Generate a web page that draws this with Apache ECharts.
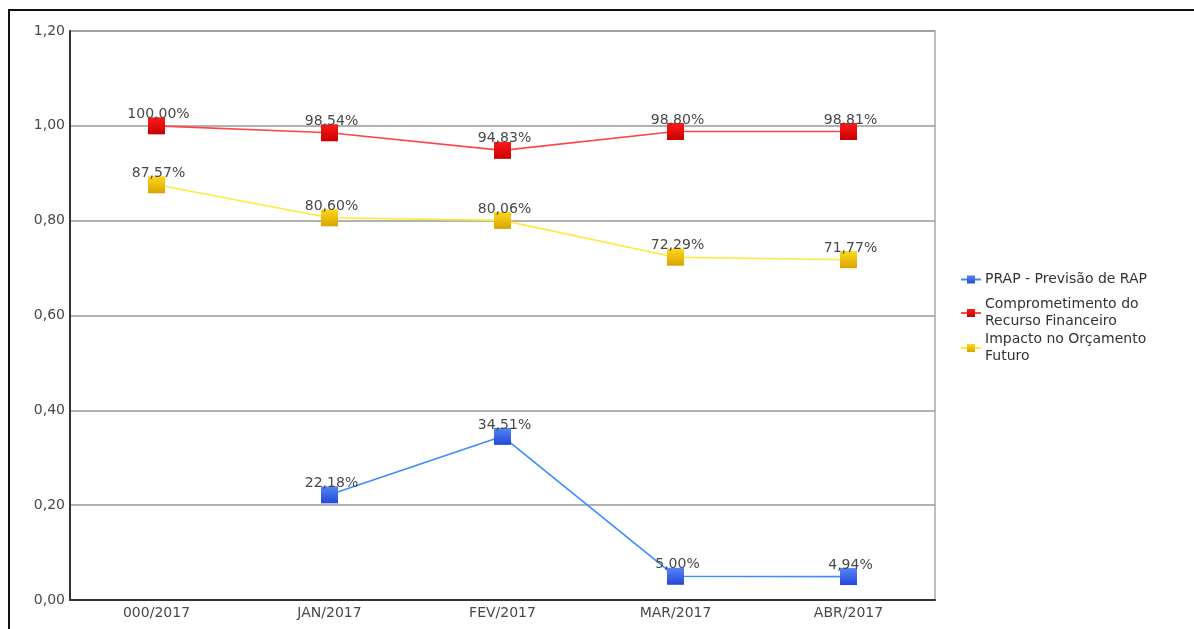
<!DOCTYPE html>
<html>
<head>
<meta charset="utf-8">
<script src="https://cdn.jsdelivr.net/npm/echarts@6/dist/echarts.min.js"></script>
<style>
  html, body { margin: 0; padding: 0; background: #fff; overflow: hidden; }
  #frame { position: absolute; left: 8px; top: 9px; width: 2000px; height: 1000px; border-left: 2px solid #111; border-top: 2px solid #111; }
  #chart { position: absolute; left: 0; top: 0; width: 1194px; height: 629px; }
</style>
</head>
<body>
<div id="frame"></div>
<div id="chart"></div>
<script>
// categorias e séries
const meses = ['000/2017', 'JAN/2017', 'FEV/2017', 'MAR/2017', 'ABR/2017']
const nomes = ['PRAP - Previsão de RAP', 'Comprometimento do\nRecurso Financeiro', 'Impacto no Orçamento\nFuturo']
const prap = ['-', 0.2218, 0.3451, 0.0500, 0.0494]
const comprometimento = [1.0000, 0.9854, 0.9483, 0.9880, 0.9881]
const impacto = [0.8757, 0.8060, 0.8006, 0.7229, 0.7177]

const fmtPct = v => (v * 100).toFixed(2).replace('.', ',') + '%'
const grad = (a, b) => new echarts.graphic.LinearGradient(0, 0, 0, 1, [
  {offset: 0, color: a}, {offset: 1, color: b}
])

const serie = (name, data, line, top, bottom) => ({
  name,
  type: 'line',
  data,
  symbol: 'rect',
  symbolSize: 17,
  connectNulls: false,
  lineStyle: {color: line, width: 1.6},
  itemStyle: {color: grad(top, bottom), borderWidth: 0},
  label: {
    show: true,
    position: 'top',
    distance: -4,
    offset: [2, 0],
    color: '#484848',
    fontSize: 14,
    fontFamily: 'DejaVu Sans',
    formatter: p => fmtPct(p.value)
  },
  emphasis: {disabled: true},
  animation: false
})

const legenda = (data, top) => ({
  data,
  orient: 'vertical',
  left: 960,
  top,
  padding: 0,
  itemWidth: 20,
  itemHeight: 10,
  itemGap: 1,
  textStyle: {fontSize: 14, color: '#333', lineHeight: 17, fontFamily: 'DejaVu Sans', padding: [0, 0, 0, -1]}
})

const chart = echarts.init(document.getElementById('chart'))
chart.setOption({
  backgroundColor: 'transparent',
  textStyle: {fontFamily: 'DejaVu Sans'},
  grid: {left: 70, right: 259, top: 31, bottom: 29, containLabel: false,
    show: true, borderColor: '#aaa', borderWidth: 1.5},
  legend: [legenda([nomes[0]], 271), legenda(nomes.slice(1), 296)],
  xAxis: {
    type: 'category',
    data: meses,
    boundaryGap: true,
    axisLine: {lineStyle: {color: '#333', width: 2}},
    axisTick: {show: false},
    axisLabel: {color: '#484848', fontSize: 14, margin: 6}
  },
  yAxis: {
    type: 'value',
    min: 0,
    max: 1.2,
    interval: 0.2,
    axisLine: {show: true, lineStyle: {color: '#333', width: 2}},
    axisTick: {show: false},
    splitLine: {lineStyle: {color: '#999', width: 1.5}},
    axisLabel: {color: '#484848', fontSize: 14, margin: 5, formatter: v => v.toFixed(2).replace('.', ',')}
  },
  series: [
    serie(nomes[0], prap, '#3a8dff', '#5585f7', '#2448d8'),
    serie(nomes[1], comprometimento, '#ff4545', '#ff1a1a', '#c80000'),
    serie(nomes[2], impacto, '#ffe93d', '#ffd81a', '#d8a400')
  ]
})
</script>
</body>
</html>
